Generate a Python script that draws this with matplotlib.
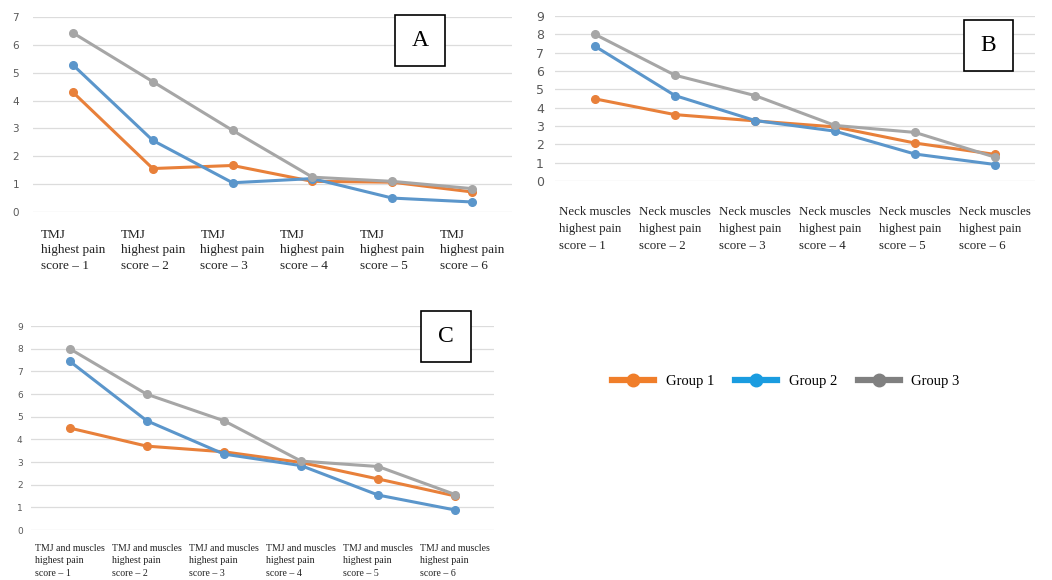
import matplotlib.pyplot as plt
from matplotlib.patches import Rectangle
from matplotlib.lines import Line2D

# Panel A - TMJ
labels_a = ["TMJ\nhighest pain\nscore \u2013 %d" % i for i in range(1, 7)]
a_group1 = [4.3, 1.56, 1.67, 1.1, 1.07, 0.72]
a_group2 = [5.28, 2.57, 1.05, 1.2, 0.5, 0.36]
a_group3 = [6.43, 4.68, 2.93, 1.25, 1.1, 0.84]

# Panel B - neck muscles
labels_b = ["Neck muscles\nhighest pain\nscore \u2013 %d" % i for i in range(1, 7)]
b_group1 = [4.48, 3.62, 3.28, 2.95, 2.07, 1.45]
b_group2 = [7.35, 4.66, 3.3, 2.72, 1.47, 0.9]
b_group3 = [8.0, 5.77, 4.66, 3.03, 2.65, 1.3]

# Panel C - TMJ and muscles
labels_c = ["TMJ and muscles\nhighest pain\nscore \u2013 %d" % i for i in range(1, 7)]
c_group1 = [4.5, 3.7, 3.45, 2.98, 2.25, 1.5]
c_group2 = [7.45, 4.82, 3.35, 2.84, 1.54, 0.88]
c_group3 = [8.0, 5.99, 4.82, 3.04, 2.8, 1.56]

group_names = ["Group 1", "Group 2", "Group 3"]
line_colors = ["#E8803A", "#5B96CB", "#A6A6A6"]
legend_colors = ["#F07E2A", "#1A9CE0", "#808080"]

W, H = 1052, 580
fig = plt.figure(figsize=(W / 100, H / 100), dpi=100)
serif = "Liberation Serif"


def px_axes(x0, x1, ytop, ybot):
    return fig.add_axes([x0 / W, 1 - ybot / H, (x1 - x0) / W, (ybot - ytop) / H])


def draw_panel(ax, labels, series, ymax, lab_size, pad, ytick_size, ypad, lsp):
    x = list(range(len(labels)))
    for vals, col in zip(series, line_colors):
        ax.plot(x, vals, color=col, lw=2.2, marker="o", ms=5.5, zorder=3)
    ax.set_xlim(-0.5, len(labels) - 0.5)
    ax.set_ylim(0, ymax)
    ax.set_yticks(range(0, ymax + 1))
    ax.grid(axis="y", color="#DCDCDC", lw=0.9)
    ax.set_axisbelow(True)
    for s in ax.spines.values():
        s.set_visible(False)
    ax.tick_params(length=0, colors="#595959", labelsize=ytick_size)
    ax.tick_params(axis="x", pad=pad)
    ax.tick_params(axis="y", pad=ypad)
    ax.set_xticks(x)
    ax.set_xticklabels(labels, fontfamily=serif, fontsize=lab_size,
                       color="#222222", ha="center", multialignment="left",
                       va="top", linespacing=lsp)


ax_a = px_axes(33, 512, 17, 212)
draw_panel(ax_a, labels_a, [a_group1, a_group2, a_group3], 7, 9.5, 12, 7.5, 10, 1.4)

ax_b = px_axes(555, 1035, 16, 181)
draw_panel(ax_b, labels_b, [b_group1, b_group2, b_group3], 9, 9.3, 18, 9.0, 8, 1.55)

ax_c = px_axes(31, 494, 326, 530)
draw_panel(ax_c, labels_c, [c_group1, c_group2, c_group3], 9, 7.1, 10, 6.5, 6, 1.5)

# letter boxes
for letter, (x0, y0, x1, y1) in zip("ABC", [(395, 15, 445, 66), (964, 20, 1013, 71), (421, 311, 471, 362)]):
    fig.patches.append(Rectangle((x0 / W, 1 - y1 / H), (x1 - x0) / W, (y1 - y0) / H,
                                 transform=fig.transFigure, fill=True, facecolor="white",
                                 edgecolor="black", lw=1.2, zorder=5))
    fig.text((x0 + x1) / 2 / W, 1 - (y0 + y1) / 2 / H, letter, fontfamily=serif,
             fontsize=17, ha="center", va="center", zorder=6)

handles = [Line2D([0], [0], color=c, lw=4.5, marker="o", ms=9) for c in legend_colors]
fig.legend(handles, group_names, loc="center", bbox_to_anchor=(786 / W, 1 - 381 / H),
           ncol=3, frameon=False, prop={"family": serif, "size": 10.5},
           handlelength=2.9, columnspacing=1.4, handletextpad=0.8)

fig.savefig("out.png", dpi=100, facecolor="white")
